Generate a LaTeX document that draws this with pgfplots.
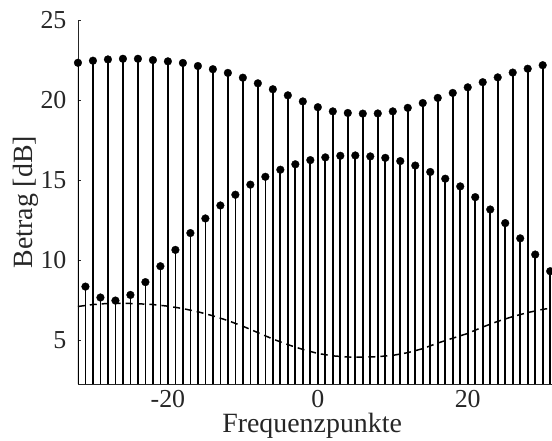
\documentclass[border=0pt]{standalone}
\usepackage{fontspec}
\setmainfont{Liberation Serif}
\usepackage{pgfplots}
\pgfplotsset{compat=1.18}
\definecolor{axgray}{rgb}{0.15,0.15,0.15}

\begin{document}
\fontsize{26}{31}\selectfont
\begin{tikzpicture}
\begin{axis}[
  scale only axis, width=476.1pt, height=366pt,
  xmin=-32, xmax=31.24, ymin=2.27, ymax=25,
  axis x line*=bottom, axis y line*=left,
  axis line style={axgray, line width=0.6pt, -},
  xtick={-20,0,20}, xticklabels={-20,0,20},
  ytick={5,10,15,20,25},
  tick align=inside, major tick length=3.5pt,
  tick style={axgray, line width=0.6pt},
  /pgf/number format/assume math mode=true,
  ticklabel style={font=\fontsize{26}{31}\selectfont, text=axgray},
  xticklabel style={yshift=-5pt, inner sep=1pt},
  yticklabel style={xshift=-2.7pt},
  xlabel={Frequenzpunkte}, ylabel={Betrag [dB]},
  label style={font=\fontsize{28}{33}\selectfont, text=axgray},
  xlabel style={at={(axis description cs:0.494,0)}, anchor=base, yshift=-48.5pt, inner sep=1pt},
  ylabel style={at={(axis description cs:-0.11,0.5)}, anchor=center},
]
% dashed curve
\addplot[black, line width=1.5pt, dash pattern=on 7pt off 5pt] coordinates {
  (-32,7.13)(-30,7.25)(-28,7.32)(-26,7.33)(-24,7.3)(-22,7.25)(-20,7.15)
  (-18,7.0)(-16,6.8)(-14,6.55)(-12,6.25)(-10,5.9)(-8,5.5)(-6,5.1)
  (-4,4.75)(-2,4.45)(0,4.2)(2,4.05)(4,3.98)(6,3.97)(8,4.0)(10,4.08)
  (12,4.25)(14,4.5)(16,4.85)(18,5.15)(20,5.45)(22,5.85)(24,6.2)
  (26,6.5)(28,6.75)(30,6.95)(31,7.02)
};
% upper stems
\addplot[black, line width=1.7pt, ycomb, mark=*, mark size=3.9pt,
  mark options={fill=black, line width=0.3pt}] coordinates {
  (-32,22.33)(-30,22.46)(-28,22.54)(-26,22.58)(-24,22.58)(-22,22.5)
  (-20,22.42)(-18,22.32)(-16,22.13)(-14,21.93)(-12,21.7)(-10,21.4)
  (-8,21.05)(-6,20.68)(-4,20.3)(-2,19.92)(0,19.56)(2,19.3)(4,19.2)
  (6,19.16)(8,19.17)(10,19.3)(12,19.52)(14,19.82)(16,20.14)(18,20.45)
  (20,20.8)(22,21.12)(24,21.42)(26,21.72)(28,21.96)(30,22.18)
};
% lower stems
\addplot[black, line width=1.7pt, ycomb, mark=*, mark size=3.9pt,
  mark options={fill=black, line width=0.3pt}] coordinates {
  (-31,8.37)(-29,7.69)(-27,7.5)(-25,7.85)(-23,8.65)(-21,9.64)(-19,10.66)
  (-17,11.71)(-15,12.62)(-13,13.43)(-11,14.1)(-9,14.73)(-7,15.22)
  (-5,15.66)(-3,16.0)(-1,16.26)(1,16.43)(3,16.53)(5,16.55)(7,16.49)
  (9,16.4)(11,16.2)(13,15.92)(15,15.52)(17,15.1)(19,14.62)(21,13.95)
  (23,13.18)(25,12.33)(27,11.38)(29,10.37)(31,9.33)
};
\end{axis}
\pgfresetboundingbox
\useasboundingbox ([xshift=-78bp,yshift=-56.5bp]current axis.south west)
  rectangle ([yshift=20bp]current axis.north east);
\end{tikzpicture}
\end{document}
